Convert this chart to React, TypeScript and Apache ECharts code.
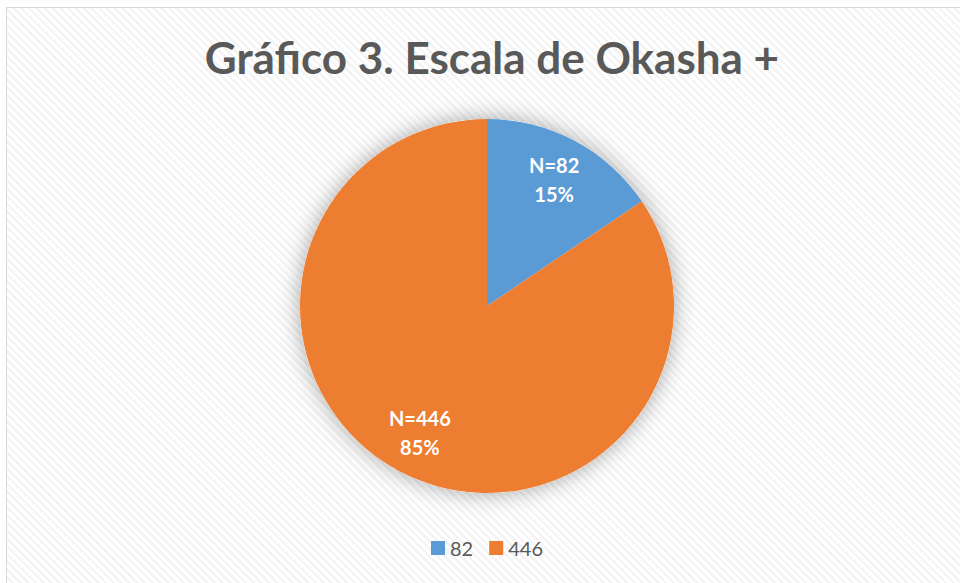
import React, { useEffect, useRef } from "react";
import * as echarts from "echarts";

const titleText = "Gráfico 3. Escala de Okasha +";
const categories = ["82", "446"];
const values = [82, 446];
const nLabels = ["N=82", "N=446"];
const percentLabels = ["15%", "85%"];
const colors = ["#5B9BD5", "#ED7D31"];

export default function App() {
  const ref = useRef<HTMLDivElement>(null);
  useEffect(() => {
    if (!ref.current) return;
    const chart = echarts.init(ref.current, undefined, { renderer: "svg" });
    const data = categories.map((c, i) => ({
      name: c,
      value: values[i],
      itemStyle: { color: colors[i] },
    }));
    const R = 187;
    chart.setOption({
      animation: false,
      backgroundColor: "transparent",
      title: {
        text: titleText,
        left: 480,
        top: 22,
        textAlign: "center",
        textStyle: {
          fontFamily: "Lato",
          fontSize: 44,
          fontWeight: "bold",
          color: "#595959",
        },
      },
      legend: {
        data: categories,
        left: "center",
        top: 525,
        itemWidth: 14,
        itemHeight: 14,
        itemGap: 16,
        icon: "rect",
        textStyle: { fontFamily: "Lato", fontSize: 20, color: "#595959" },
      },
      series: [
        {
          type: "pie",
          name: "shadow",
          silent: true,
          center: [480, 298],
          radius: [0, R],
          startAngle: 90,
          clockwise: true,
          label: { show: false },
          labelLine: { show: false },
          data: [{ name: "__bg", value: 1, itemStyle: { color: "#ffffff", shadowBlur: 22, shadowColor: "rgba(0,0,0,0.35)" } }],
          legendHoverLink: false,
        },
        {
          type: "pie",
          name: "main",
          center: [480, 298],
          radius: [0, R],
          startAngle: 90,
          clockwise: true,
          label: { show: false },
          labelLine: { show: false },
          data,
        },
        {
          type: "pie",
          name: "labels",
          silent: true,
          center: [480, 298],
          radius: [R * 0.5, R],
          startAngle: 90,
          clockwise: true,
          itemStyle: { color: "rgba(0,0,0,0)" },
          labelLine: { show: false },
          label: {
            show: true,
            position: "inside",
            formatter: (p: any) => nLabels[p.dataIndex] + "\n" + percentLabels[p.dataIndex],
            fontFamily: "Lato",
            fontSize: 20,
            fontWeight: "bold",
            color: "#ffffff",
            lineHeight: 29,
          },
          data: categories.map((c, i) => ({ name: c, value: values[i], itemStyle: { color: "rgba(0,0,0,0)" } })),
        },
      ],
    });
    return () => chart.dispose();
  }, []);
  return (
    <div
      style={{
        position: "absolute",
        left: 6,
        top: 7,
        width: 960,
        height: 583,
        border: "1px solid #d9d9d9",
        background:
          "repeating-linear-gradient(45deg, #ffffff 0px, #ffffff 3px, #f4f4f4 3px, #f4f4f4 5.5px)",
      }}
    >
      <div ref={ref} style={{ width: 960, height: 583 }} />
    </div>
  );
}
